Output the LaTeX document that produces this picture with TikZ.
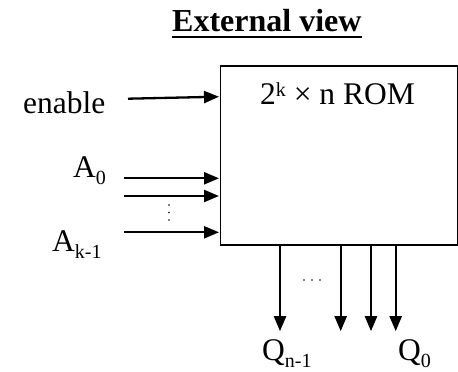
\documentclass[tikz,border=0pt]{standalone}
\usepackage{fontspec}
\setmainfont{Liberation Serif}
\usetikzlibrary{arrows.meta}
\newcommand{\subtx}[1]{\raisebox{-7.5pt}{\fontsize{20}{20}\selectfont #1}}
\newcommand{\suptx}[1]{\raisebox{7.5pt}{\fontsize{20}{20}\selectfont #1}}
\begin{document}
\begin{tikzpicture}[x=1pt,y=-1pt,
  lbl/.style={anchor=base west,inner sep=0pt,font=\fontsize{31.5}{31.5}\selectfont},
  arr/.style={line width=2.3pt,-{Triangle[length=15pt,width=12pt]},shorten >=0.5pt},
  box/.style={draw,line width=1.5pt,inner sep=0pt,anchor=north west,minimum width=237pt,minimum height=179pt},
  dotf/.style={fill=black,draw=none}]
\useasboundingbox (0,0) rectangle (458,372);
% title
\node[lbl,font=\fontsize{32}{32}\selectfont\bfseries] (title) at (172,31.5) {External view};
\draw[line width=2pt] (title.base west |- 0,36.8) -- (title.base east |- 0,36.8);
% ROM box
\node[box] (rom) at (219.5,65) {};
\node[lbl] (romlbl) at (260,104) {2\suptx{k} × n ROM};
% inputs
\node[lbl] (en) at (23,113) {enable};
\node[lbl] (a0) at (73,177) {A\subtx{0}};
\node[lbl] (ak) at (52,251) {A\subtx{k-1}};
\coordinate (e0) at (128,98.7);
\coordinate (i0) at (124,178.3);
\coordinate (i1) at (124,196);
\coordinate (i2) at (124,232.3);
\draw[arr] (e0) -- (rom.west |- 0,96.7);
\draw[arr] (i0) -- (rom.west |- i0);
\draw[arr] (i1) -- (rom.west |- i1);
\draw[arr] (i2) -- (rom.west |- i2);
\foreach \yy in {205,212.5,220} \fill[dotf] (169,\yy) circle (0.9);
% outputs
\coordinate (o0) at (280,331.7);
\coordinate (o1) at (340.7,331.7);
\coordinate (o2) at (371,331.7);
\coordinate (o3) at (395.7,331.7);
\draw[arr] (rom.south -| o0) -- (o0);
\draw[arr] (rom.south -| o1) -- (o1);
\draw[arr] (rom.south -| o2) -- (o2);
\draw[arr] (rom.south -| o3) -- (o3);
\foreach \xx in {304,312,320} \fill[dotf] (\xx,280) circle (0.9);
\node[lbl] (qn) at (262,360) {Q\subtx{n-1}};
\node[lbl] (q0) at (398,360) {Q\subtx{0}};
\end{tikzpicture}
\end{document}
